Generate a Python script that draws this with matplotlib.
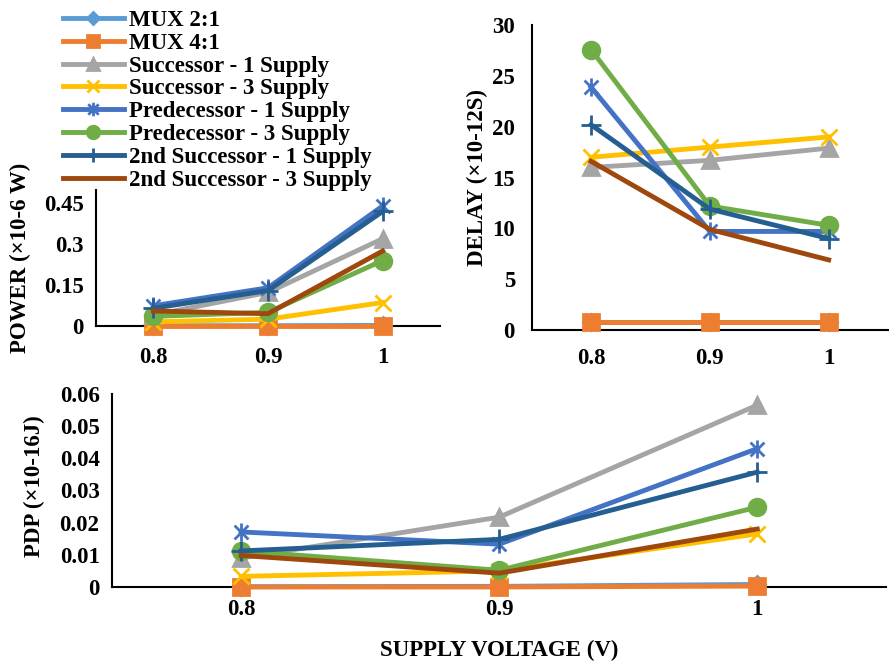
import matplotlib
matplotlib.use("Agg")
import matplotlib.pyplot as plt
from matplotlib.path import Path

plt.rcParams['font.family'] = ['Liberation Serif', 'DejaVu Serif']
plt.rcParams['font.weight'] = 'bold'

volts = ['0.8', '0.9', '1']
names = ['MUX 2:1', 'MUX 4:1', 'Successor - 1 Supply', 'Successor - 3 Supply',
         'Predecessor - 1 Supply', 'Predecessor - 3 Supply',
         '2nd Successor - 1 Supply', '2nd Successor - 3 Supply']

# power (x10-6 W)
power_mux2 = [0.001, 0.001, 0.002]
power_mux4 = [0.0, 0.0, 0.0]
power_succ1 = [0.04, 0.123, 0.32]
power_succ3 = [0.015, 0.025, 0.086]
power_pred1 = [0.074, 0.14, 0.44]
power_pred3 = [0.035, 0.05, 0.24]
power_2succ1 = [0.065, 0.13, 0.42]
power_2succ3 = [0.055, 0.045, 0.275]

# delay (x10-12 s)
delay_mux2 = [0.8, 0.8, 0.8]
delay_mux4 = [0.8, 0.8, 0.8]
delay_succ1 = [16.0, 16.7, 17.9]
delay_succ3 = [17.0, 18.0, 19.0]
delay_pred1 = [23.9, 9.7, 9.7]
delay_pred3 = [27.6, 12.2, 10.3]
delay_2succ1 = [20.2, 11.9, 9.0]
delay_2succ3 = [16.6, 9.9, 6.9]

# pdp (x10-16 J)
pdp_mux2 = [0.0001, 0.0002, 0.0008]
pdp_mux4 = [0.0, 0.0, 0.0003]
pdp_succ1 = [0.009, 0.0217, 0.0565]
pdp_succ3 = [0.0033, 0.005, 0.0165]
pdp_pred1 = [0.0171, 0.0133, 0.043]
pdp_pred3 = [0.0112, 0.0052, 0.0248]
pdp_2succ1 = [0.0112, 0.0148, 0.0357]
pdp_2succ3 = [0.0098, 0.0043, 0.018]

# excel style star: an x with a vertical bar through it
star = Path([(-1, -1), (1, 1), (-1, 1), (1, -1), (0, -1.3), (0, 1.3)],
            [Path.MOVETO, Path.LINETO] * 3)

colors = ['#5B9BD5', '#ED7D31', '#A5A5A5', '#FFC000', '#4472C4', '#70AD47', '#255E91', '#9E480E']
markers = ['D', 's', '^', 'x', star, 'o', '+', 'None']
msizes = [8, 12, 11, 12, 13, 12, 14, 0]

power = [power_mux2, power_mux4, power_succ1, power_succ3, power_pred1, power_pred3, power_2succ1, power_2succ3]
delay = [delay_mux2, delay_mux4, delay_succ1, delay_succ3, delay_pred1, delay_pred3, delay_2succ1, delay_2succ3]
pdp = [pdp_mux2, pdp_mux4, pdp_succ1, pdp_succ3, pdp_pred1, pdp_pred3, pdp_2succ1, pdp_2succ3]

FS = 16.5

fig = plt.figure(figsize=(8.89, 6.62), dpi=100)
ax1 = fig.add_axes([0.108, 0.5076, 0.387, 0.206])
ax2 = fig.add_axes([0.598, 0.5015, 0.401, 0.4605])
ax3 = fig.add_axes([0.126, 0.1133, 0.871, 0.2917])

x = [0, 1, 2]


def draw(ax, data, ymax, ticks, tlabels, ylabel, xpad, ypad, labx, laby):
    lines = []
    for i in range(len(names)):
        ln, = ax.plot(x, data[i], color=colors[i], lw=3.5, marker=markers[i],
                      ms=msizes[i], mew=2, label=names[i], clip_on=False, zorder=3)
        lines.append(ln)
    ax.set_xlim(-0.5, 2.5)
    ax.set_ylim(0, ymax)
    ax.set_xticks(x)
    ax.set_xticklabels(volts, fontsize=FS, fontweight='bold')
    ax.set_yticks(ticks)
    ax.set_yticklabels(tlabels, fontsize=FS, fontweight='bold')
    ax.tick_params(axis='x', length=0, pad=xpad)
    ax.tick_params(axis='y', length=0, pad=ypad)
    for s in ['top', 'right']:
        ax.spines[s].set_visible(False)
    for s in ['left', 'bottom']:
        ax.spines[s].set_linewidth(1.5)
        ax.spines[s].set_color('black')
    ax.set_ylabel(ylabel, fontsize=FS, fontweight='bold')
    ax.yaxis.set_label_coords(labx, laby)
    return lines


lines = draw(ax1, power, 0.5, [0, 0.15, 0.3, 0.45], ['0', '0.15', '0.3', '0.45'],
             'POWER (×10-6 W)', 15, 9, -0.19, 0.5)
draw(ax2, delay, 30, [0, 5, 10, 15, 20, 25, 30], ['0', '5', '10', '15', '20', '25', '30'],
     'DELAY (×10-12S)', 13, 12, -0.122, 0.5)
draw(ax3, pdp, 0.06, [0, 0.01, 0.02, 0.03, 0.04, 0.05, 0.06],
     ['0', '0.01', '0.02', '0.03', '0.04', '0.05', '0.06'], 'PDP (×10-16J)', 9, 9, -0.087, 0.52)
ax3.set_xlabel('SUPPLY VOLTAGE (V)', fontsize=FS, fontweight='bold', labelpad=14)

fig.legend(handles=lines, loc='upper left', bbox_to_anchor=(0.06, 0.999), frameon=False,
           prop={'size': FS, 'weight': 'bold'}, handlelength=2.7, labelspacing=0.08,
           handletextpad=0.2, borderaxespad=0.0, markerscale=0.75)

fig.savefig('out.png', dpi=100)
